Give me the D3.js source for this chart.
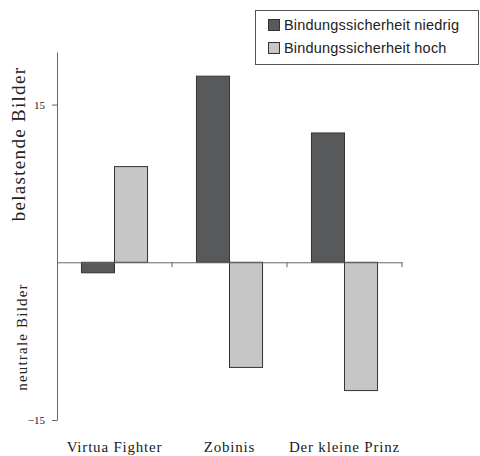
<!DOCTYPE html>
<html lang="de">
<head>
  <meta charset="UTF-8">
  <title>Bindungssicherheit</title>
  <script src="https://d3js.org/d3.v7.min.js"></script>
  <style>
    body { margin: 0; background: #fff; }
    svg text { fill: #222; }
  </style>
</head>
<body>
  <svg width="480" height="456"></svg>
  <script>
    // data
    const categories = ['Virtua Fighter', 'Zobinis', 'Der kleine Prinz'];
    const seriesNames = ['Bindungssicherheit niedrig', 'Bindungssicherheit hoch'];
    const niedrig = [-1.0, 17.7, 12.3];
    const hoch = [9.1, -10.0, -12.2];
    const yTicks = [-15, 15];
    const colors = ['#58595b', '#c6c6c6'];

    const SERIF = "'Liberation Serif', 'Times New Roman', 'DejaVu Serif', serif";
    const SANS = "'Liberation Sans', Arial, sans-serif";

    const svg = d3.select('svg');
    const margin = { left: 57, right: 78, top: 52, bottom: 36 };
    const width = 480;

    const x = d3.scaleBand()
      .domain(categories)
      .range([margin.left, width - margin.right])
      .padding(0);

    const inner = d3.scaleBand()
      .domain(seriesNames)
      .range([0, x.bandwidth()])
      .paddingOuter(0.74)
      .paddingInner(0);

    const y = d3.scaleLinear()
      .domain([-15, 20])
      .range([420, 52]);

    const rows = categories.map((c, i) => ({ cat: c, vals: [niedrig[i], hoch[i]] }));

    // bars
    const groups = svg.selectAll('.grp')
      .data(rows)
      .enter().append('g')
      .attr('class', 'grp')
      .attr('transform', d => `translate(${x(d.cat)},0)`);

    groups.selectAll('rect')
      .data(d => d.vals.map((v, j) => ({ v, s: seriesNames[j], j })))
      .enter().append('rect')
      .attr('x', d => inner(d.s))
      .attr('width', inner.bandwidth())
      .attr('y', d => y(Math.max(0, d.v)))
      .attr('height', d => Math.abs(y(d.v) - y(0)))
      .attr('fill', d => colors[d.j])
      .attr('stroke', '#333')
      .attr('stroke-width', 1);

    // y axis
    const yAxis = svg.append('g')
      .attr('transform', `translate(${margin.left},0)`)
      .call(d3.axisLeft(y).tickValues(yTicks).tickSize(5).tickSizeOuter(0));
    yAxis.attr('font-family', null).attr('font-size', null);
    yAxis.select('.domain').attr('stroke', '#666');
    yAxis.selectAll('.tick line').attr('stroke', '#666');
    yAxis.selectAll('.tick text')
      .style('font-family', SERIF)
      .style('font-size', '11px')
      .attr('x', -12);

    // x axis at zero
    const xAxis = svg.append('g')
      .attr('transform', `translate(0,${y(0)})`)
      .call(d3.axisBottom(x).tickSize(0).tickSizeOuter(0).tickFormat(''));
    xAxis.select('.domain').attr('stroke', '#666');
    // category boundary ticks
    xAxis.selectAll('.bnd')
      .data(categories)
      .enter().append('line')
      .attr('x1', d => x(d) + x.bandwidth())
      .attr('x2', d => x(d) + x.bandwidth())
      .attr('y1', 0).attr('y2', 5)
      .attr('stroke', '#666');

    // category labels
    svg.selectAll('.cat')
      .data(categories)
      .enter().append('text')
      .attr('x', d => x(d) + x.bandwidth() / 2)
      .attr('y', 452)
      .attr('text-anchor', 'middle')
      .style('font-family', SERIF)
      .style('font-size', '15px')
      .style('letter-spacing', '0.8px')
      .text(d => d);

    // y titles
    svg.append('text')
      .attr('transform', 'translate(25,144) rotate(-90)')
      .attr('text-anchor', 'middle')
      .style('font-family', SERIF)
      .style('font-size', '19px')
      .style('letter-spacing', '1.3px')
      .text('belastende Bilder');

    svg.append('text')
      .attr('transform', 'translate(27,337) rotate(-90)')
      .attr('text-anchor', 'middle')
      .style('font-family', SERIF)
      .style('font-size', '15px')
      .style('letter-spacing', '1.2px')
      .text('neutrale Bilder');

    // legend
    const legend = svg.append('g');
    legend.append('rect')
      .attr('x', 255.5).attr('y', 10.5)
      .attr('width', 223).attr('height', 54)
      .attr('fill', '#fff').attr('stroke', '#555');
    seriesNames.forEach((s, i) => {
      legend.append('rect')
        .attr('x', 268.5).attr('y', 19.5 + i * 23)
        .attr('width', 11).attr('height', 11)
        .attr('fill', colors[i]).attr('stroke', '#333');
      legend.append('text')
        .attr('x', 284).attr('y', 30 + i * 23)
        .style('font-family', SANS)
        .style('font-size', '14.5px')
        .style('letter-spacing', '0.2px')
        .text(s);
    });
  </script>
</body>
</html>
